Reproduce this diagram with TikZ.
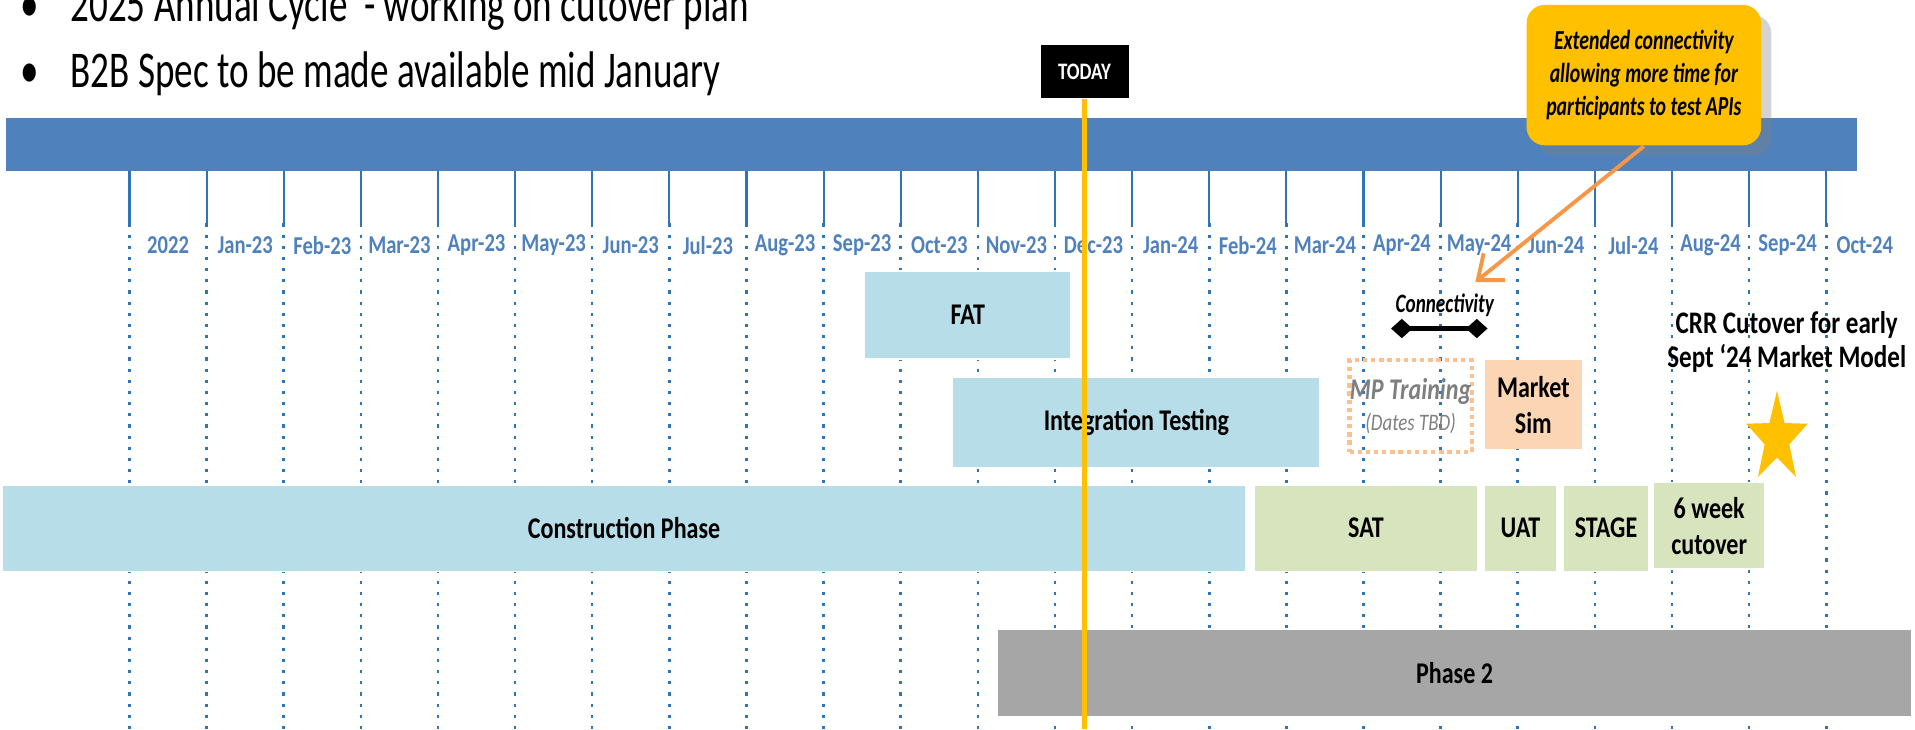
\documentclass[tikz,border=0pt]{standalone}
\usepackage{fontspec}
\setmainfont{Carlito}[FakeStretch=0.8]
\newfontfamily\narrowfont{Carlito}[FakeStretch=0.72]
\usetikzlibrary{shapes.geometric,shadows,arrows.meta}
\definecolor{barblue}{RGB}{79,129,189}
\definecolor{tickblue}{RGB}{46,117,182}
\definecolor{phaseblue}{RGB}{183,221,232}
\definecolor{testgreen}{RGB}{215,228,189}
\definecolor{peach}{RGB}{252,213,181}
\definecolor{lightorange}{RGB}{250,192,144}
\definecolor{gold}{RGB}{255,192,0}
\definecolor{arroworange}{RGB}{247,150,70}
\definecolor{midgray}{RGB}{166,166,166}
\definecolor{textgray}{RGB}{127,127,127}

\begin{document}
\begin{tikzpicture}
  [
    x=0.01cm, y=-0.01cm,
    phase box/.style={rectangle, draw=white, thin, fill=phaseblue, inner sep=0pt, align=center, font=\fontsize{7}{8.4}\selectfont\bfseries},
    test box/.style={phase box, fill=testgreen},
    month/.style={font=\fontsize{6}{7}\selectfont\bfseries, text=barblue, inner sep=0pt},
    bullet text/.style={font=\narrowfont\fontsize{12}{14}\selectfont, anchor=base west, inner sep=0pt}
    ]
   \tikzstyle{tick} = [tickblue, line width=0.5pt]
   \tikzstyle{gridline} = [tickblue, line width=0.6pt, dash pattern=on 0.7pt off 1.9pt]

  \useasboundingbox (0,0) rectangle (1568,597);

  % month grid
  \foreach \lab [count=\i from 0] in {2022,Jan-23,Feb-23,Mar-23,Apr-23,May-23,Jun-23,Jul-23,Aug-23,Sep-23,Oct-23,Nov-23,Dec-23,Jan-24,Feb-24,Mar-24,Apr-24,May-24,Jun-24,Jul-24,Aug-24,Sep-24,Oct-24}
  {
    \draw[tick] (106+63.15*\i,140) -- (106+63.15*\i,183);
    \draw[gridline] (106+63.15*\i,183) -- (106+63.15*\i,597);
    \node[month] (m\i) at (106+63.15*\i+31.6,201) {\lab};
  }

  \node[bullet text] (bul1) at (16,18) {•};
  \node[bullet text] (line1) at (57,18) {2025 Annual Cycle~ - working on cutover plan};
  \node[bullet text] (bul2) at (16,72) {•};
  \node[bullet text] (line2) at (57,72) {B2B Spec to be made available mid January};

  \node[fill=barblue, inner sep=0pt, minimum width=15.15cm, minimum height=0.43cm] (header) at (762.5,118.5) {};

  % phases
  \node[phase box, minimum width=1.69cm, minimum height=0.72cm] (fat) at (792.5,258) {FAT};
  \node[phase box, minimum width=3.01cm, minimum height=0.74cm] (integ) at (930.5,346) {Integration Testing};
  \node[phase box, minimum width=10.18cm, minimum height=0.71cm] (constr) at (511,432.5) {Construction Phase};
  \node[test box, minimum width=1.83cm, minimum height=0.71cm] (sat) at (1118.5,432.5) {SAT};
  \node[test box, minimum width=0.60cm, minimum height=0.71cm] (uat) at (1245,432.5) {UAT};
  \node[test box, minimum width=0.70cm, minimum height=0.71cm] (stage) at (1315,432.5) {STAGE};
  \node[test box, minimum width=0.91cm, minimum height=0.71cm] (cutover) at (1399.5,430.5) {6 week\\cutover};
  \node[phase box, fill=midgray, minimum width=7.48cm, minimum height=0.72cm] (phasetwo) at (1191,551) {Phase 2};

  \node[phase box, fill=none, draw=lightorange, line width=1pt, dash pattern=on 1pt off 0.9pt, minimum width=1.00cm, minimum height=0.75cm, text=textgray] (mptrain) at (1155,332.5)
    {{\itshape MP Training}\\[-1pt]{\mdseries\itshape\fontsize{5.5}{6.5}\selectfont (Dates TBD)}};
  \node[phase box, fill=peach, draw=none, minimum width=0.79cm, minimum height=0.73cm] (marketsim) at (1255.5,331.5) {Market\\Sim};

  \node[font=\narrowfont\fontsize{6.2}{7}\selectfont\bfseries\itshape, inner sep=0pt] (conn) at (1183,250) {Connectivity};
  \coordinate (connleft) at (1139,269);
  \coordinate (connright) at (1218,269);
  \draw[line width=1.2pt, {Diamond[length=5pt,width=4.5pt]}-{Diamond[length=5pt,width=4.5pt]}] (connleft) -- (connright);

  \node[font=\fontsize{7.3}{8}\selectfont\bfseries, align=center, inner sep=0pt] (crr) at (1463,280) {CRR Cutover for early\\Sept ‘24 Market Model};
  \coordinate (starpos) at (1455,359);
  \node[star, star points=5, star point ratio=2.5, fill=gold, minimum size=0.78cm, inner sep=0pt, xscale=0.68, transform shape] (crrstar) at (starpos) {};

  % today marker
  \node[fill=black, text=white, inner sep=0pt, minimum width=0.72cm, minimum height=0.43cm, font=\fontsize{5.5}{6}\selectfont\bfseries] (today) at (888,58.5) {TODAY};
  \coordinate (todayend) at (888,597);
  \draw[gold, line width=1pt] (today.south) -- (todayend);

  % callout
  \node[fill=gold, rounded corners=0.15cm, drop shadow={opacity=0.35}, minimum width=1.92cm, minimum height=1.15cm, inner sep=0pt, align=center, font=\narrowfont\fontsize{6.4}{7.7}\selectfont\bfseries\itshape] (callout) at (1346,61.5)
    {Extended connectivity\\allowing more time for\\participants to test APIs};
  \coordinate (calltip) at (1208,231);
  \draw[arroworange, line width=0.9pt, -{Straight Barb[length=5pt,width=8pt]}] (callout.south) -- (calltip);

\end{tikzpicture}
\end{document}
